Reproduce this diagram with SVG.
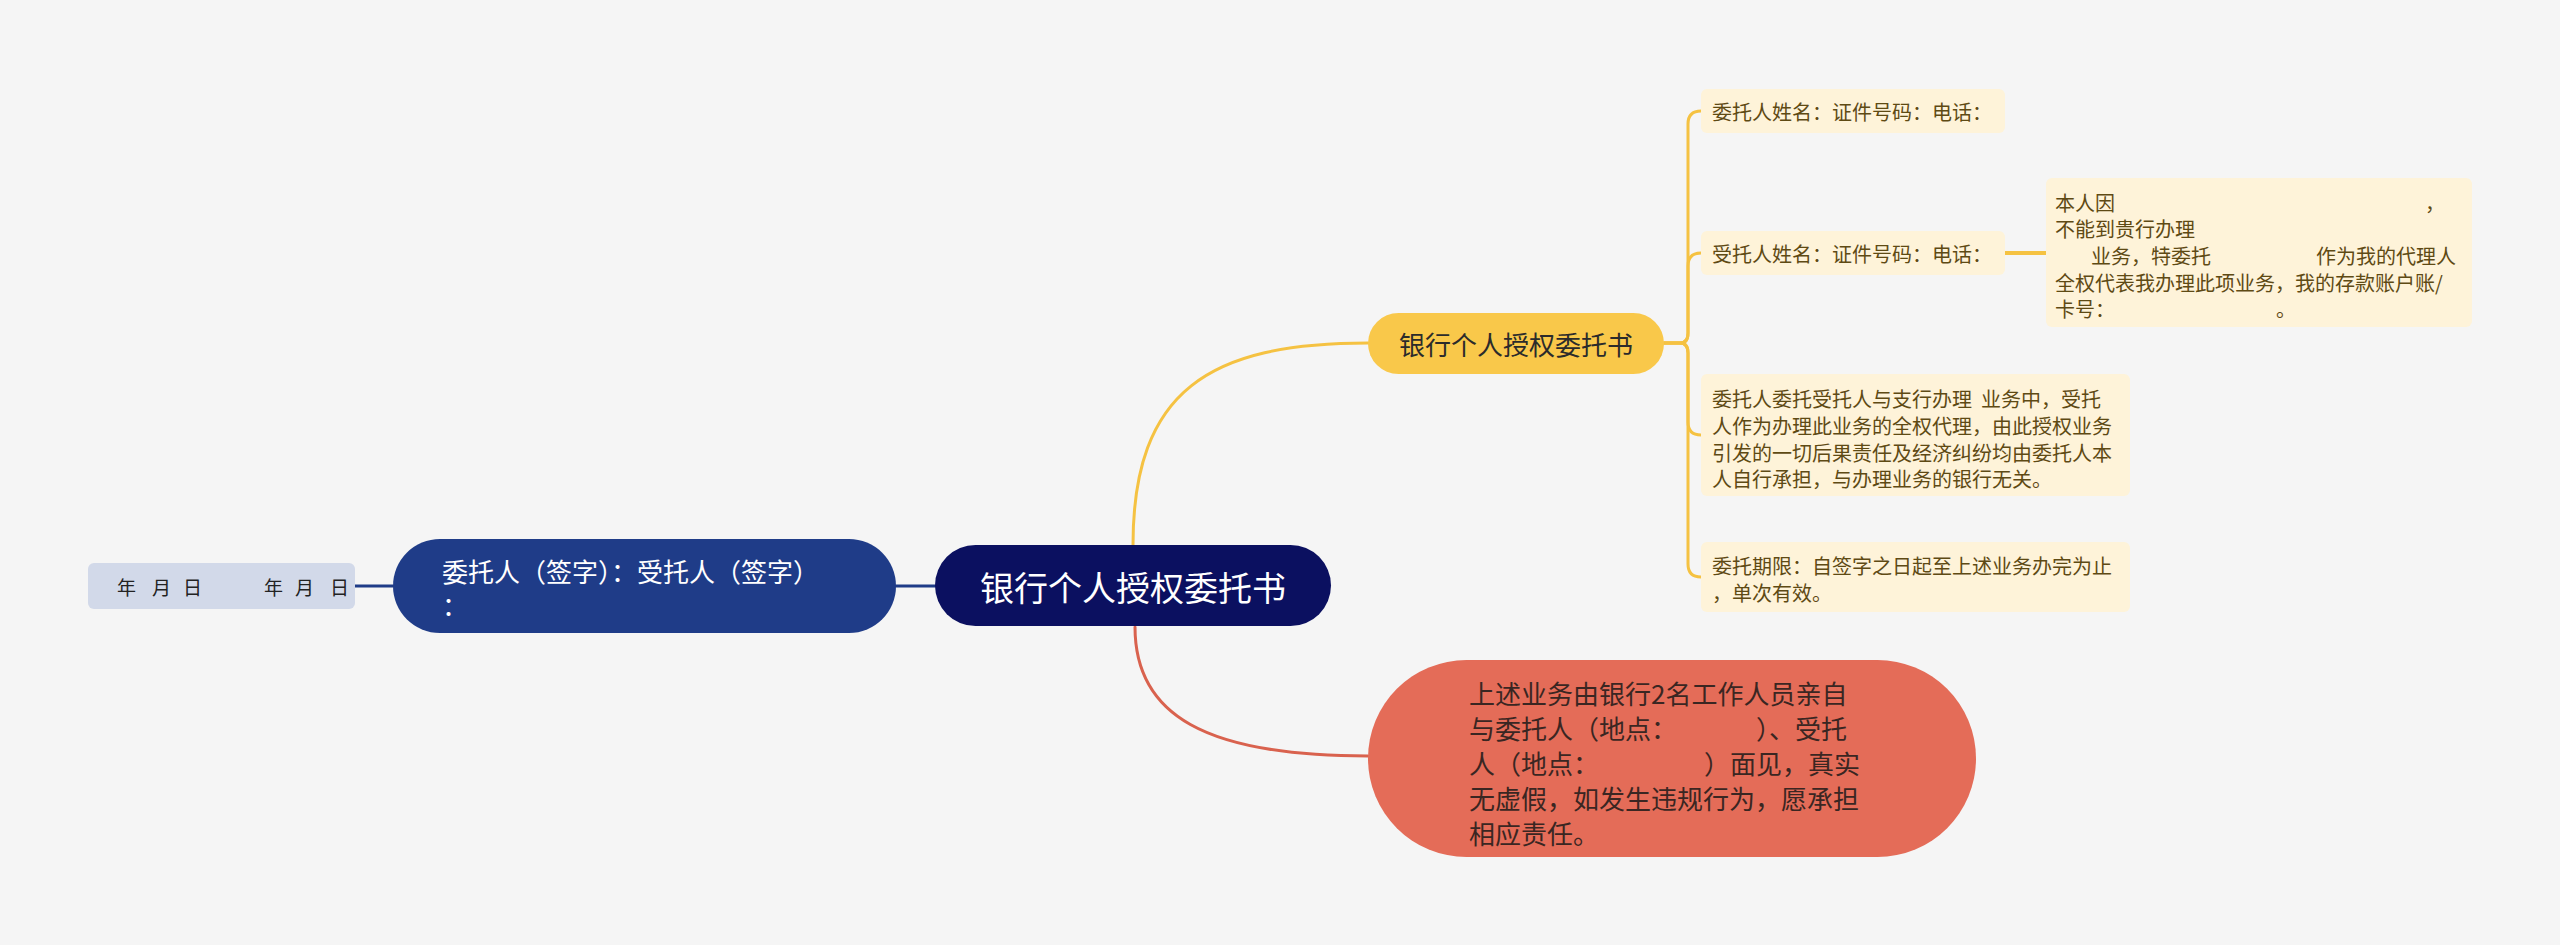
<svg xmlns="http://www.w3.org/2000/svg" width="2560" height="945" viewBox="0 0 2560 945">
<style>
text{font-family:"Noto Sans CJK SC","Noto Sans",sans-serif;dominant-baseline:central}
.leaf rect{fill:#FEF3D9}
.leaf text{fill:#5E4A14;font-size:20px}
.cy{fill:none;stroke:#F5C242;stroke-width:3}
</style>
<rect width="2560" height="945" fill="#F5F5F5"/>
<g id="connectors" fill="none" stroke-linecap="round">
<path d="M354 586 H393" stroke="#1F3C88" stroke-width="3"/>
<path d="M896 586 H935" stroke="#1F3C88" stroke-width="3"/>
<path d="M1133 545 C1133 390 1210 343 1368 343" stroke="#F5C242" stroke-width="3"/>
<path d="M1135 627 C1135 715 1205 756 1368 756" stroke="#D9624E" stroke-width="3"/>
<path class="cy" d="M1664 343 H1680 Q1688 343 1688 333 V124 Q1688 111 1701 111"/>
<path class="cy" d="M1664 343 H1680 Q1688 343 1688 333 V266 Q1688 253 1701 253"/>
<path class="cy" d="M1664 343 H1680 Q1688 343 1688 353 V422 Q1688 435 1701 435"/>
<path class="cy" d="M1664 343 H1680 Q1688 343 1688 353 V564 Q1688 577 1701 577"/>
<path d="M2005 253 H2046" stroke="#F5C242" stroke-width="4"/>
</g>
<g id="root">
<rect x="935" y="545" width="396" height="81" rx="40.5" fill="#0B1060"/>
<text x="1133" y="586" font-size="34" fill="#FFFFFF" text-anchor="middle">银行个人授权委托书</text>
</g>
<g id="sign">
<rect x="393" y="539" width="503" height="94" rx="47" fill="#1F3C88"/>
<text x="442" y="570" font-size="26" fill="#FFFFFF">委托人（签字）：受托人（签字）</text>
<text x="442" y="604" font-size="26" fill="#FFFFFF">：</text>
</g>
<g id="date">
<rect x="88" y="563" width="267" height="46" rx="6" fill="#D2D9E9"/>
<text y="586" font-size="19" fill="#222222" x="117 135 152 169 183 220 264 281 295 313 330">年 月 日 年 月 日</text>
</g>
<g id="branch">
<rect x="1368" y="313" width="296" height="61" rx="30.5" fill="#F9C84A"/>
<text x="1516" y="343" font-size="26" fill="#2B2B2B" text-anchor="middle">银行个人授权委托书</text>
</g>
<g id="meet">
<rect x="1368" y="660" width="608" height="197" rx="98.5" fill="#E46C58"/>
<g font-size="26" fill="#3A2622">
<text x="1469" y="692">上述业务由银行2名工作人员亲自</text>
<text y="727"><tspan x="1469">与委托人（地点：</tspan><tspan x="1756">）、受托</tspan></text>
<text y="762"><tspan x="1469">人（地点：</tspan><tspan x="1704">）面见，真实</tspan></text>
<text x="1469" y="797">无虚假，如发生违规行为，愿承担</text>
<text x="1469" y="832">相应责任。</text>
</g>
</g>
<g id="leaf1" class="leaf">
<rect x="1701" y="89" width="304" height="44" rx="6"/>
<text x="1712" y="111">委托人姓名：证件号码：电话：</text>
</g>
<g id="leaf2" class="leaf">
<rect x="1701" y="231" width="304" height="44" rx="6"/>
<text x="1712" y="253">受托人姓名：证件号码：电话：</text>
</g>
<g id="leaf2a" class="leaf">
<rect x="2046" y="178" width="426" height="149" rx="6"/>
<text y="202"><tspan x="2055">本人因</tspan><tspan x="2425">，</tspan></text>
<text x="2055" y="228">不能到贵行办理</text>
<text y="255"><tspan x="2091">业务，特委托</tspan><tspan x="2316">作为我的代理人</tspan></text>
<text x="2055" y="282">全权代表我办理此项业务，我的存款账户账/</text>
<text y="308"><tspan x="2055">卡号：</tspan><tspan x="2276">。</tspan></text>
</g>
<g id="leaf3" class="leaf">
<rect x="1701" y="374" width="429" height="122" rx="6"/>
<text x="1712" y="398" xml:space="preserve">委托人委托受托人与支行办理  业务中，受托</text>
<text x="1712" y="425">人作为办理此业务的全权代理，由此授权业务</text>
<text x="1712" y="452">引发的一切后果责任及经济纠纷均由委托人本</text>
<text x="1712" y="478">人自行承担，与办理业务的银行无关。</text>
</g>
<g id="leaf4" class="leaf">
<rect x="1701" y="542" width="429" height="70" rx="6"/>
<text x="1712" y="565">委托期限：自签字之日起至上述业务办完为止</text>
<text x="1712" y="592">，单次有效。</text>
</g>
</svg>
